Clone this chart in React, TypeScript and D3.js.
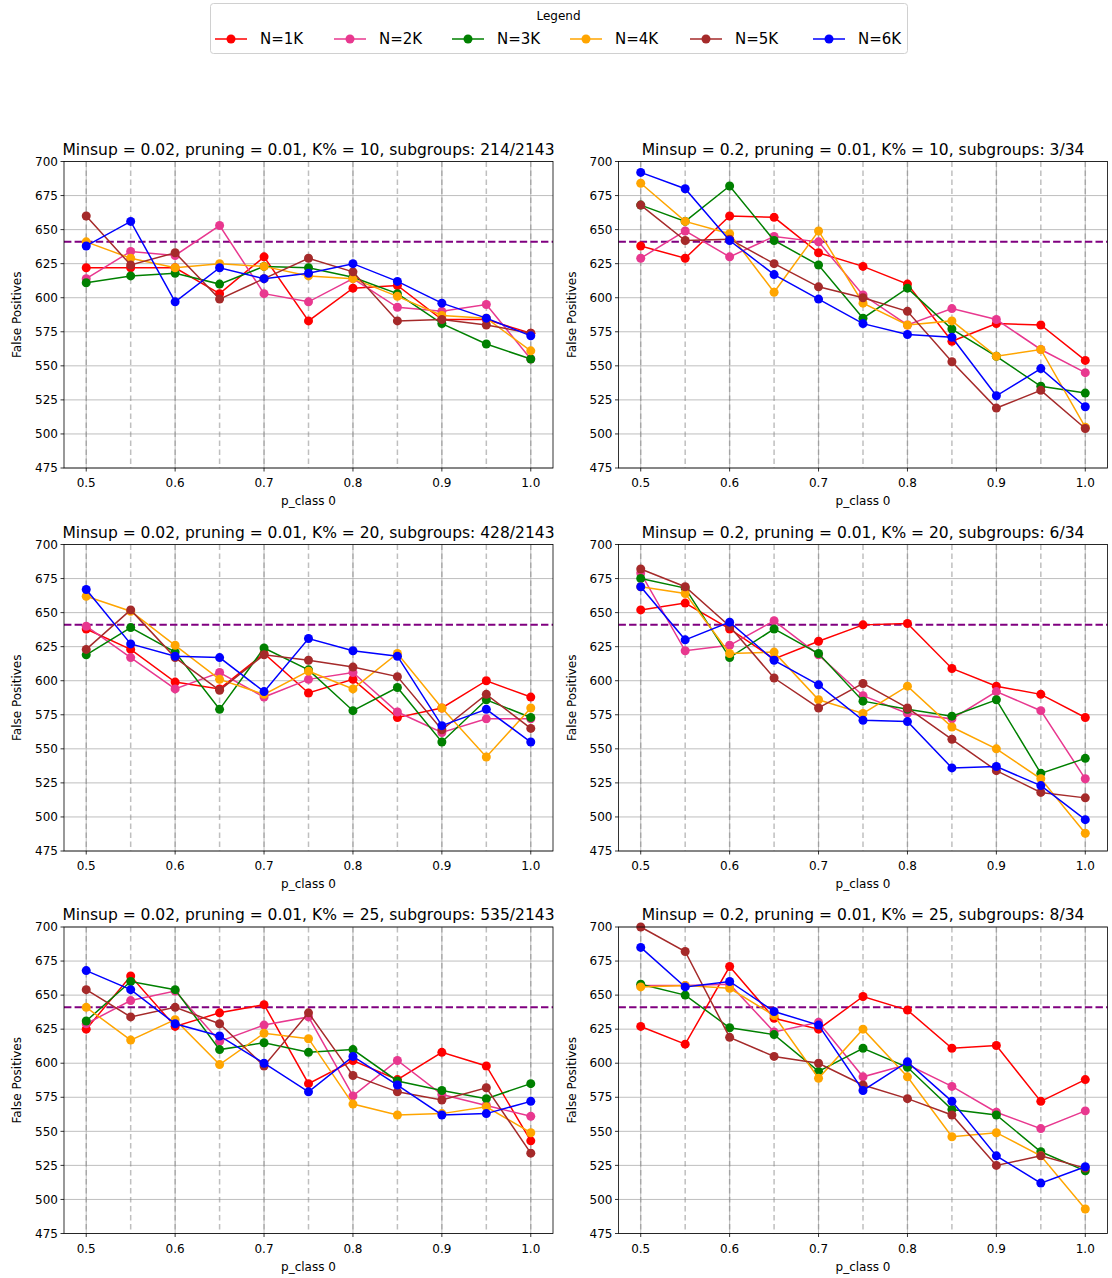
import React from "react";
import * as d3 from "d3";

const pClass = [0.5, 0.55, 0.6, 0.65, 0.7, 0.75, 0.8, 0.85, 0.9, 0.95, 1.0];
const seriesNames = ["N=1K", "N=2K", "N=3K", "N=4K", "N=5K", "N=6K"];
const seriesColors = ["#ff0000", "#e8388f", "#008000", "#ffa500", "#a52a2a", "#0000ff"];
const yTicks = [475, 500, 525, 550, 575, 600, 625, 650, 675, 700];
const xTicks = [0.5, 0.6, 0.7, 0.8, 0.9, 1.0];
const baselineFP = 641;

const titles = [
  "Minsup = 0.02, pruning = 0.01, K% = 10, subgroups: 214/2143",
  "Minsup = 0.2, pruning = 0.01, K% = 10, subgroups: 3/34",
  "Minsup = 0.02, pruning = 0.01, K% = 20, subgroups: 428/2143",
  "Minsup = 0.2, pruning = 0.01, K% = 20, subgroups: 6/34",
  "Minsup = 0.02, pruning = 0.01, K% = 25, subgroups: 535/2143",
  "Minsup = 0.2, pruning = 0.01, K% = 25, subgroups: 8/34",
];

// rows: N=1K .. N=6K
const panelK10Low = [
  [622, 622, 622, 603, 630, 583, 607, 609, 584, 584, 574],
  [614, 634, 631, 653, 603, 597, 614, 593, 590, 595, 555],
  [611, 616, 618, 610, 623, 622, 615, 603, 581, 566, 555],
  [641, 629, 622, 625, 623, 616, 614, 601, 587, 585, 561],
  [660, 624, 633, 599, 614, 629, 619, 583, 584, 580, 574],
  [638, 656, 597, 622, 614, 618, 625, 612, 596, 585, 572],
];
const panelK10High = [
  [638, 629, 660, 659, 633, 623, 610, 568, 581, 580, 554],
  [629, 649, 630, 645, 641, 602, 580, 592, 584, 562, 545],
  [668, 656, 682, 642, 624, 585, 607, 577, 557, 535, 530],
  [684, 656, 647, 604, 649, 596, 580, 583, 557, 562, 505],
  [668, 642, 643, 625, 608, 600, 590, 553, 519, 532, 504],
  [692, 680, 642, 617, 599, 581, 573, 571, 528, 548, 520],
];
const panelK20Low = [
  [638, 623, 599, 594, 620, 591, 601, 573, 580, 600, 588],
  [640, 617, 594, 606, 588, 601, 606, 577, 562, 572, 572],
  [619, 639, 621, 579, 624, 608, 578, 595, 555, 586, 573],
  [662, 651, 626, 601, 590, 607, 594, 620, 580, 544, 580],
  [623, 652, 617, 593, 619, 615, 610, 603, 564, 590, 565],
  [667, 627, 618, 617, 592, 631, 622, 618, 567, 579, 555],
];
const panelK20High = [
  [652, 657, 638, 616, 629, 641, 642, 609, 596, 590, 573],
  [679, 622, 626, 644, 619, 589, 576, 572, 592, 578, 528],
  [675, 668, 617, 638, 620, 585, 579, 574, 586, 532, 543],
  [669, 664, 620, 621, 586, 576, 596, 566, 550, 528, 488],
  [682, 669, 640, 602, 580, 598, 580, 557, 534, 518, 514],
  [669, 630, 643, 615, 597, 571, 570, 536, 537, 523, 498],
];
const panelK25Low = [
  [625, 664, 627, 637, 643, 585, 602, 588, 608, 598, 543],
  [629, 646, 653, 616, 628, 634, 576, 602, 577, 569, 561],
  [631, 660, 654, 610, 615, 608, 610, 587, 580, 574, 585],
  [641, 617, 632, 599, 622, 618, 570, 562, 563, 568, 549],
  [654, 634, 641, 629, 598, 637, 591, 579, 573, 582, 534],
  [668, 654, 629, 620, 600, 579, 605, 584, 562, 563, 572],
];
const panelK25High = [
  [627, 614, 671, 633, 625, 649, 639, 611, 613, 572, 588],
  [657, 657, 658, 623, 630, 590, 599, 583, 564, 552, 565],
  [658, 650, 626, 621, 594, 611, 597, 566, 562, 535, 521],
  [656, 657, 655, 635, 589, 625, 590, 546, 549, 532, 493],
  [700, 682, 619, 605, 600, 584, 574, 562, 525, 532, 523],
  [685, 656, 660, 638, 628, 580, 601, 572, 532, 512, 524],
];

const panelData = [panelK10Low, panelK10High, panelK20Low, panelK20High, panelK25Low, panelK25High];

const W = 1112;
const H = 1278;
const FONT = "DejaVu Sans, sans-serif";
const colLeft = [64, 618.5];
const axW = 489;
const rowTop = [161.5, 544.5, 927];
const axH = 306.5;

function Panel({ idx }: { idx: number }) {
  const col = idx % 2;
  const row = Math.floor(idx / 2);
  const x0 = colLeft[col];
  const y0 = rowTop[row];
  const x = d3.scaleLinear().domain([0.475, 1.025]).range([x0, x0 + axW]);
  const y = d3.scaleLinear().domain([475, 700]).range([y0 + axH, y0]);
  const data = panelData[idx];
  const line = d3
    .line<number>()
    .x((_, i) => x(pClass[i]))
    .y((v) => y(v));
  return (
    <g>
      <defs>
        <clipPath id={`clip${idx}`}>
          <rect x={x0} y={y0 - 6} width={axW} height={axH + 12} />
        </clipPath>
      </defs>
      {/* horizontal grid */}
      {yTicks.map((t) => (
        <line key={"hg" + t} x1={x0} x2={x0 + axW} y1={y(t)} y2={y(t)} stroke="#b0b0b0" strokeWidth={1} opacity={0.8} />
      ))}
      {/* vertical major grid */}
      {xTicks.map((t) => (
        <line key={"vg" + t} x1={x(t)} x2={x(t)} y1={y0} y2={y0 + axH} stroke="#b0b0b0" strokeWidth={1} opacity={0.8} />
      ))}
      {/* dashed verticals at each p_class */}
      {pClass.map((p) => (
        <line key={"vd" + p} x1={x(p)} x2={x(p)} y1={y0} y2={y0 + axH} stroke="#808080" strokeOpacity={0.5} strokeWidth={1.5} strokeDasharray="5.5,3.5" />
      ))}
      {/* baseline */}
      <line x1={x0} x2={x0 + axW} y1={y(baselineFP)} y2={y(baselineFP)} stroke="#800080" strokeWidth={2} strokeDasharray="7.4,3.2" />
      <g clipPath={`url(#clip${idx})`}>
        {data.map((vals, s) => (
          <g key={"s" + s}>
            <path d={line(vals) || ""} fill="none" stroke={seriesColors[s]} strokeWidth={1.5} />
            {vals.map((v, i) => (
              <circle key={i} cx={x(pClass[i])} cy={y(v)} r={4.5} fill={seriesColors[s]} />
            ))}
          </g>
        ))}
      </g>
      {/* frame */}
      <rect x={x0} y={y0} width={axW} height={axH} fill="none" stroke="#000" strokeWidth={0.8} />
      {/* y ticks */}
      {yTicks.map((t) => (
        <g key={"yt" + t}>
          <line x1={x0 - 3.5} x2={x0} y1={y(t)} y2={y(t)} stroke="#000" strokeWidth={0.8} />
          <text x={x0 - 6} y={y(t)} dy="0.35em" textAnchor="end" fontSize={12} fontFamily={FONT} fill="#000">
            {t}
          </text>
        </g>
      ))}
      {/* x ticks */}
      {xTicks.map((t) => (
        <g key={"xt" + t}>
          <line x1={x(t)} x2={x(t)} y1={y0 + axH} y2={y0 + axH + 3.5} stroke="#000" strokeWidth={0.8} />
          <text x={x(t)} y={y0 + axH + 19} textAnchor="middle" fontSize={12} fontFamily={FONT} fill="#000">
            {d3.format(".1f")(t)}
          </text>
        </g>
      ))}
      <text x={x0 + axW / 2} y={y0 + axH + 37} textAnchor="middle" fontSize={12} fontFamily={FONT} fill="#000">
        p_class 0
      </text>
      <text
        transform={`translate(${x0 - 43},${y0 + axH / 2}) rotate(-90)`}
        textAnchor="middle"
        fontSize={12}
        fontFamily={FONT}
        fill="#000"
      >
        False Positives
      </text>
      <text x={x0 + axW / 2} y={y0 - 7} textAnchor="middle" fontSize={15.5} fontFamily={FONT} fill="#000">
        {titles[idx]}
      </text>
    </g>
  );
}

function Legend() {
  const lx = 210;
  const ly = 3;
  const lw = 697;
  const lh = 50;
  const itemX = [215, 334, 452, 570, 690, 813];
  return (
    <g>
      <rect x={lx + 0.5} y={ly + 0.5} width={lw} height={lh} rx={3} fill="#fff" stroke="#d0d0d0" strokeWidth={1} />
      <text x={lx + lw / 2} y={ly + 17} textAnchor="middle" fontSize={12} fontFamily={FONT} fill="#000">
        Legend
      </text>
      {seriesNames.map((n, i) => (
        <g key={n}>
          <line x1={itemX[i]} x2={itemX[i] + 32} y1={ly + 36} y2={ly + 36} stroke={seriesColors[i]} strokeWidth={1.5} />
          <circle cx={itemX[i] + 16} cy={ly + 36} r={4.5} fill={seriesColors[i]} />
          <text x={itemX[i] + 45} y={ly + 36} dy="0.36em" fontSize={15} fontFamily={FONT} fill="#000">
            {n}
          </text>
        </g>
      ))}
    </g>
  );
}

export default function App() {
  return (
    <svg
      width={W}
      height={H}
      viewBox={`0 0 ${W} ${H}`}
      style={{ position: "absolute", left: 0, top: 0, background: "#fff" }}
    >
      <rect x={0} y={0} width={W} height={H} fill="#fff" />
      {[0, 1, 2, 3, 4, 5].map((i) => (
        <Panel key={i} idx={i} />
      ))}
      <Legend />
    </svg>
  );
}
